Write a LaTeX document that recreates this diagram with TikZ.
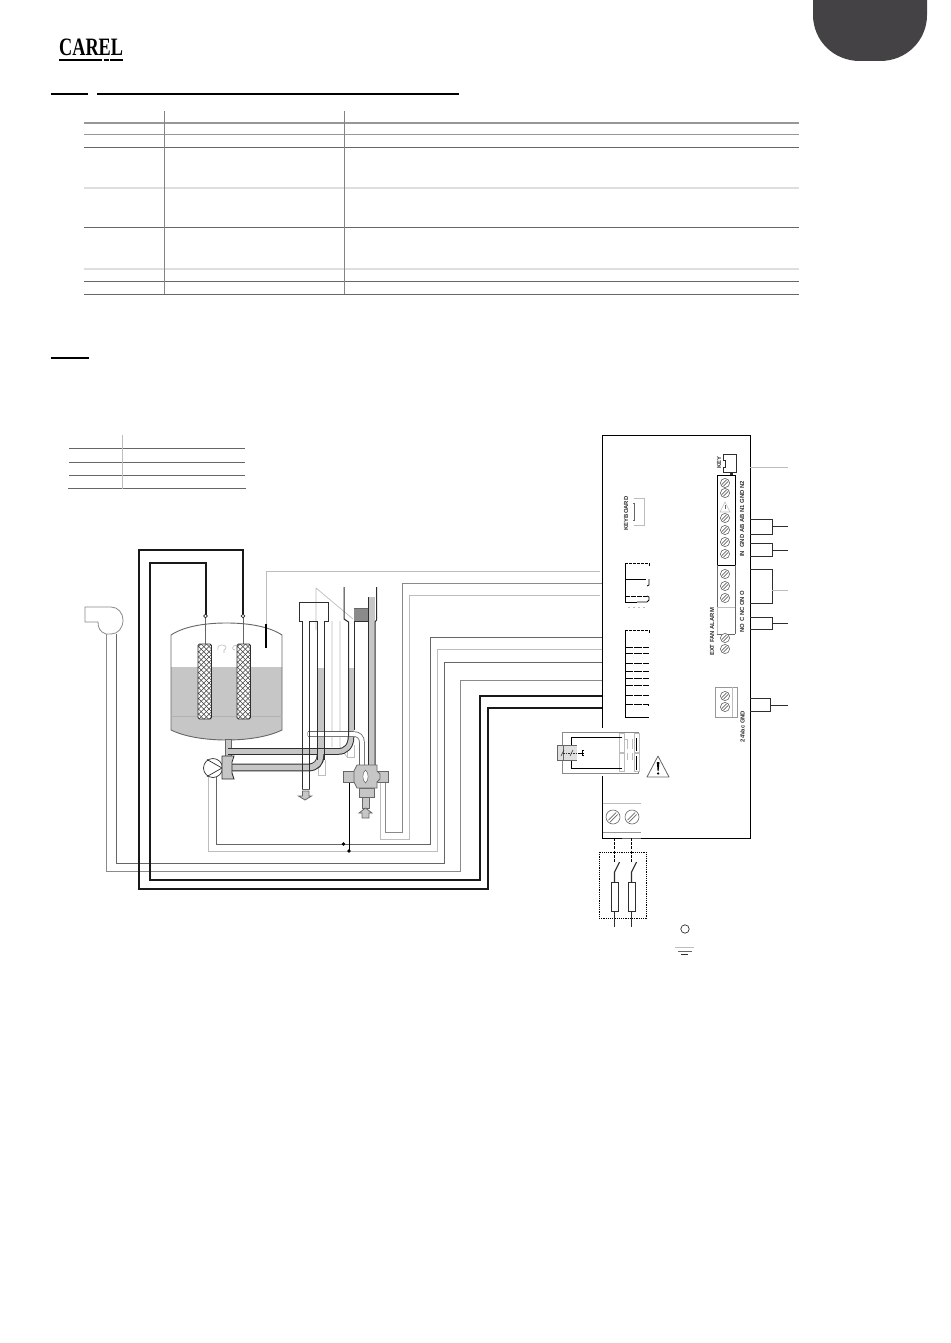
\documentclass[tikz,border=0pt]{standalone}
\usepackage{fontspec}
\setmainfont{Liberation Sans}
\newfontfamily\logofont{Liberation Serif}
\definecolor{dk}{HTML}{2E2E2E}
\definecolor{midg}{HTML}{666666}
\definecolor{wireg}{HTML}{8A8A8A}
\definecolor{ltg}{HTML}{BDBDBD}
\definecolor{vltg}{HTML}{DEDEDE}
\definecolor{water}{HTML}{C6C6C6}
\definecolor{blob}{HTML}{444244}
\tikzset{
  rulelight/.style={draw=vltg,line width=2pt},
  rulemid/.style={draw=ltg!80!black,line width=1pt},
  ruledark/.style={draw=midg,line width=1pt},
  ruleth/.style={draw=black,line width=2pt},
  colrule/.style={draw=ltg!70!black,line width=.6pt},
  wirea/.style={draw=wireg,line width=.8pt},
  wireb/.style={draw=ltg,line width=1pt},
  wirec/.style={draw=midg,line width=.9pt},
  wirethick/.style={draw=black!90,line width=2pt},
  brk/.style={draw=dk,line width=.9pt},
  part/.style={draw=dk,line width=1pt},
  lightpart/.style={draw=ltg,line width=.7pt},
  valve/.style={draw=midg,fill=water,line width=.8pt},
  lbl/.style={font=\bfseries\fontsize{5.9}{6}\selectfont,text=dk,inner sep=0pt,rotate=90},
  dashbus/.style={draw=black,line width=.7pt,dash pattern=on 3pt off 1.2pt},
}
\newcommand\myscrew[2]{%
  \draw[draw=midg,line width=.6pt,fill=white] (#1,#2) circle (4.6);
  \draw[draw=midg,line width=.8pt] (#1-3.2,#2+1.6) -- (#1+1.6,#2-3.2) (#1-1.6,#2+3.2) -- (#1+3.2,#2-1.6);
}
\begin{document}
\begin{tikzpicture}[x=1pt,y=-1pt]
\useasboundingbox (0,0) rectangle (950,1343);
\fill[white] (0,0) rectangle (950,1343);
% corner tab
\fill[blob] (813,0) -- (813,15) .. controls (813,40) and (833,61) .. (860,61) -- (880,61) .. controls (907,61) and (927,40) .. (927,15) -- (927,0) -- cycle;
% logo
\node[font=\logofont\bfseries\fontsize{25}{25}\selectfont,xscale=.73,inner sep=0pt,anchor=base west] (logo) at (59,55.5) {CAREL};
\draw[black,line width=1.5pt] (59,60) -- (102,60) (103.5,60) -- (109,60) (110,60) -- (123,60);
% heading rules
\draw[ruleth] (51,94) -- (88,94) (97,94) -- (459,94);
\draw[ruleth] (51,358) -- (89,358);
% main table
\draw[rulemid,line width=1.4pt] (84,123) -- (799,123);
\draw[rulemid] (84,135) -- (799,135);
\draw[ruledark] (84,148) -- (799,148);
\draw[rulelight] (84,188) -- (799,188);
\draw[ruledark] (84,227.5) -- (799,227.5);
\draw[rulelight] (84,269) -- (799,269);
\draw[ruledark] (84,281) -- (799,281);
\draw[ruledark] (84,294) -- (799,294);
\draw[colrule] (164,111) -- (164,294) (344,111) -- (344,294);
% small table
\draw[ruledark] (69,448) -- (245,448) (69,462) -- (245,462) (69,475) -- (245,475) (68,488.5) -- (246,488.5);
\draw[draw=ltg,line width=1pt] (122,435) -- (122,489);
% ---- wires ----
\draw[wireb] (266,626) -- (266,571) -- (600,571);
\draw[wirea] (385,782) -- (385,832) -- (402,832) -- (402,583) -- (602,583);
\draw[wireb] (380,782) -- (380,839) -- (409,839) -- (409,595) -- (600,595);
\draw[wirec] (216,770) -- (216,844) -- (430,844) -- (430,637) -- (602,637);
\draw[wireb] (208,770) -- (208,851) -- (437,851) -- (437,649) -- (602,649);
\draw[wirec] (116,634) -- (116,863) -- (444,863) -- (444,662) -- (602,662);
\draw[wirea] (106,634) -- (106,871) -- (460,871) -- (460,680) -- (602,680);
\draw[wirethick] (205.5,616) -- (205.5,562.5) -- (150,562.5) -- (150,880) -- (480,880) -- (480,696) -- (602,696);
\draw[wirethick] (243,615) -- (243,550) -- (139,550) -- (139,889) -- (488,889) -- (488,708) -- (602,708);
\draw[black,line width=.8pt] (349,780) -- (349,851);
\fill[black] (343.5,844) circle (1.9) (349,851) circle (1.9);
% ---- fan ----
\draw[wirea] (106,634) .. controls (100,632) and (98,628) .. (98,622) -- (85,622) -- (85,607) -- (111,607) .. controls (118,607) and (123,613) .. (123,620) .. controls (123,628) and (118,634) .. (111,634) -- (106,634);
% ---- tank ----
\fill[water] (171,667) -- (282,667) -- (282,730) .. controls (270,736) and (250,740) .. (226.5,740) .. controls (203,740) and (183,736) .. (171,730) -- cycle;
\draw[draw=midg,line width=.9pt] (171,730) -- (171,635) .. controls (183,627) and (203,623) .. (226.5,623) .. controls (250,623) and (270,627) .. (282,635) -- (282,730) .. controls (270,736) and (250,740) .. (226.5,740) .. controls (203,740) and (183,736) .. (171,730) -- cycle;
\draw[draw=black!30,line width=.3pt] (171,716) -- (282,716);
\draw[black,line width=2pt] (266,624) -- (266,648);
% electrodes
\foreach \ex/\wx in {198/205.5,237/243}{
  \draw[draw=midg,line width=1pt] (\wx,618) -- (\wx,644);
  \draw[fill=white,draw=dk,line width=.6pt] (\wx,616) circle (1.9);
  \begin{scope}
    \clip[rounded corners=1.5pt] (\ex,644) rectangle (\ex+13.5,719);
    \fill[white] (\ex,644) rectangle (\ex+13.5,719);
    \foreach \k in {-4,...,18}{
      \draw[draw=black!75,line width=.55pt] (\ex-2,644+\k*5.2) -- (\ex+18,644+\k*5.2+20);
      \draw[draw=black!75,line width=.55pt] (\ex-2,644+\k*5.2) -- (\ex+18,644+\k*5.2-20);
    }
  \end{scope}
  \draw[draw=dk,line width=.8pt,rounded corners=1.5pt] (\ex,644) rectangle (\ex+13.5,719);
}
% bubbles
\draw[draw=ltg,line width=.6pt] (224,653) -- (224,650) .. controls (227,649) and (227,645) .. (222,645) .. controls (219,645) and (217,647) .. (218,650);
\draw[draw=ltg,line width=.6pt] (235,650) .. controls (231,650) and (232,645) .. (237,645);
% ---- light back parts of columns ----
\draw[lightpart] (332,621) -- (332,747) (340,621) -- (340,747) -- (347,757);
\draw[lightpart] (316,588) -- (353,619) (316,588) -- (316,630);
\draw[lightpart] (318,760) -- (318,775) -- (325,775) -- (325,760);
\draw[lightpart] (347,745) -- (347,757) -- (354,757) -- (354,745);
% water in columns
\fill[water] (317,668) rectangle (324,760);
\fill[water] (349,668) rectangle (354,737);
% ---- pipes ----
\fill[water,draw=midg,line width=.8pt] (225,739) rectangle (231,757);
\draw[draw=dk,line width=6.6pt] (228,751.5) -- (338,751.5) .. controls (346,751.5) and (351,746) .. (351,737);
\draw[draw=water,line width=4.6pt] (226,751.5) -- (338,751.5) .. controls (346,751.5) and (351,746) .. (351,737);
\draw[draw=dk,line width=7.8pt] (232,767.5) -- (308,767.5) .. controls (316,767.5) and (320.5,763) .. (320.5,755);
\draw[draw=water,line width=5.8pt] (232,767.5) -- (308,767.5) .. controls (316,767.5) and (320.5,763) .. (320.5,753);
% white pipe
\draw[draw=midg,line width=5.6pt] (308,734) -- (353,734) .. controls (359,734) and (362,737) .. (362,743) -- (362,766);
\draw[draw=white,line width=4pt] (306,734) -- (353,734) .. controls (359,734) and (362,737) .. (362,743) -- (362,766);
\draw[draw=ltg,line width=1pt] (307,731.7) -- (307,736.3);
% exit tube and cap
\draw[part] (302,789) -- (302,621) -- (299,621) -- (299,602) -- (328,602) -- (328,621) -- (324.5,621) -- (324.5,760);
\draw[part] (309.5,789) -- (309.5,621) -- (317,621) -- (317,760);
\draw[draw=midg,line width=1pt] (302,789) -- (309.5,789);
% right column
\draw[part] (344,587) -- (344,619) -- (348.5,622) -- (348.5,737);
\draw[part] (354,730) -- (354,608);
\fill[wireg] (354,608) rectangle (368,621);
\draw[part] (354,621) -- (368,621);
\draw[draw=water,line width=6pt] (371.5,597) -- (371.5,766);
\draw[part] (368,597) -- (368,766);
\draw[part] (376.5,587) -- (376.5,620) -- (375,622) -- (375,766);
\draw[draw=midg,line width=.7pt] (354,608) -- (368,608);
% drain arrow
\draw[valve] (302.5,791) -- (309,791) -- (309,796) -- (311.5,796) -- (305,800) -- (298.5,796) -- (302.5,796) -- cycle;
% valve
\draw[valve] (343,771) rectangle (388,782);
\draw[valve] (359,788) rectangle (374,797);
\draw[valve] (362,797) rectangle (369,808);
\draw[valve] (354,771) -- (357,765) -- (377,765) -- (377,771) -- (380,774) -- (380,779) -- (377,782) -- (377,788) -- (357,788) -- (354,782) -- cycle;
\fill[white,draw=midg,line width=.5pt] (365.5,770) .. controls (362,773) and (362,780) .. (365.5,783) .. controls (369,780) and (369,773) .. (365.5,770);
\draw[valve] (365.5,808) -- (372,813) -- (369,813) -- (369,818) -- (362,818) -- (362,813) -- (359,813) -- cycle;
% pump
\draw[draw=dk,fill=white,line width=.7pt] (213,768) circle (9.5);
\draw[draw=dk,line width=.7pt] (207,759.5) -- (222,768) -- (207,776.5);
\draw[valve,draw=dk] (222,756) -- (234,756) -- (232,762) -- (232,773) -- (234,779) -- (222,779) -- cycle;
% ---- controller box ----
\draw[draw=black,line width=1pt] (602,728) -- (602,435) -- (750,435) -- (750,838) -- (602,838) -- (602,776);
% key
\node[lbl] (keylab) at (719,462.5) {KEY};
\draw[draw=dk,line width=.9pt] (723,454) -- (723,460) -- (725,460) -- (725,467) -- (723,467) -- (723,472) -- (736,472) -- (736,454) -- cycle;
\fill[dk] (730,472) rectangle (733,475);
\draw[draw=ltg,line width=1pt] (750,467) -- (788,467);
% keyboard
\node[lbl] (kblab) at (626,513.5) {KEYBOARD};
\draw[draw=ltg,line width=.8pt] (634,498) -- (644,498) -- (644,525) -- (634,525);
\draw[draw=midg,line width=.7pt] (633,503) -- (635,503) (634,503) -- (634,520) (633,520) -- (635,520);
% terminal block
\draw[draw=black,line width=.9pt] (717,475) rectangle (735,565);
\draw[draw=midg,line width=.9pt] (717,565) -- (717,607) (735,565) -- (735,634);
\draw[draw=ltg,line width=.9pt] (717,607) -- (735,607) (717,607) -- (717,634);
\draw[draw=midg,line width=.9pt] (717,634) -- (735,634);
\foreach \yy in {483,493,518,530,542,554,574,586,598,638,649}{\myscrew{725}{\yy}}
\draw[draw=ltg,line width=.6pt] (725,502) -- (720,512) -- (730,512) -- cycle;
\draw[draw=midg,line width=.6pt] (725,505) -- (725,509);
\node[lbl] (lab1) at (742,519) {IN\ \ GND\ AB\ AB N1 GND N2};
\node[lbl] (lab2) at (742,611.5) {NO C NC ON O};
\node[lbl] (lab3) at (712,632) {EXT FAN ALARM};
% dashed connectors
\draw[draw=black,line width=.8pt] (625,563) -- (625,602) -- (637,602);
\draw[black,line width=.8pt,dash pattern=on 3pt off 1pt] (625,563) -- (649,563) -- (649,567);
\draw[black,line width=.8pt] (625,579) -- (646,579);
\draw[black,line width=.8pt] (649,579) -- (649,585) -- (647,586);
\draw[black,line width=.8pt,dash pattern=on 5pt off 1pt] (625,596) -- (647,596);
\draw[black,line width=.8pt] (647,596) -- (649,597) -- (649,600) -- (647,602) -- (637,602);
\draw[draw=ltg,line width=.8pt,dash pattern=on 2pt off 3pt] (628,607) -- (645,607);
\draw[black,line width=.8pt] (625,630) -- (625,717) -- (649,717);
\draw[black,line width=.8pt,dash pattern=on 3pt off 1pt] (625,630) -- (649,630) -- (649,634);
\foreach \yy in {647,653,663,671,678,685,695,704}{
  \draw[black,line width=.7pt,dash pattern=on 8pt off 1pt] (625,\yy) -- (649,\yy);
}
\fill[black] (648,705) rectangle (649,706);
% 24 V terminal
\draw[draw=ltg!80!black,line width=1pt,fill=white] (715,687) rectangle (737,717);
\draw[draw=ltg,line width=.8pt] (732,687) -- (732,717);
\myscrew{725}{696}\myscrew{725}{707}
\node[lbl] (lab4) at (742.5,726.5) {24Vac GND};
% right brackets
\draw[brk] (750,519) -- (772,519) -- (772,534) -- (750,534) (772,526) -- (788,526);
\draw[brk] (750,543) -- (772,543) -- (772,556) -- (750,556) (772,550) -- (788,550);
\draw[brk] (750,569) -- (772,569) -- (772,603) -- (750,603);
\draw[draw=ltg,line width=1pt] (772,590) -- (788,590);
\draw[brk] (750,617) -- (772,617) -- (772,629) -- (750,629) (772,623) -- (788,623);
\draw[brk] (750,698) -- (770,698) -- (770,711) -- (750,711) (770,705) -- (788,705);
% relay
\draw[draw=wireg,line width=.8pt,fill=white] (562,732) rectangle (638,773);
\foreach \rx/\rw in {619/5,634/5}{
  \draw[draw=ltg,line width=.8pt,fill=white] (\rx,733) rectangle (\rx+\rw,752);
  \draw[draw=ltg,line width=.8pt,fill=white] (\rx,753.5) rectangle (\rx+\rw,771);
}
\draw[draw=ltg,line width=.7pt] (624,739) -- (627,739) -- (627,749) (627,753) -- (627,760) (632,739) -- (632,749) (632,753) -- (632,760);
\draw[draw=black,line width=.8pt] (622,737) -- (571,737) -- (571,768) -- (622,768);
\draw[draw=black,line width=.5pt] (636,738) -- (636,751) (636,756) -- (636,770);
\fill[black!12] (558,746) rectangle (577,760);
\draw[draw=midg,line width=.9pt] (557,745) -- (577,745) (557,745) -- (557,760) -- (577,760);
\draw[draw=midg,line width=.7pt] (563,745) -- (563,760);
\draw[draw=dk,line width=.5pt] (561,756) -- (564,750) (570,756) -- (573,750);
\draw[draw=dk,line width=.6pt,dash pattern=on 1.5pt off 1pt] (563,753) -- (581,753);
\draw[draw=black,line width=.8pt] (578,753) -- (584,753) (584,750.5) -- (582,750.5) -- (582,755.5) -- (584,755.5);
% warning
\draw[draw=midg,line width=.8pt,fill=white,line join=round] (658,756) -- (669,777) -- (647,777) -- cycle;
\fill[black] (656.8,762) -- (659.4,762) -- (658.6,771) -- (657.6,771) -- cycle;
\fill[black] (658.1,773.5) circle (1.3);
% supply terminal
\draw[draw=ltg,line width=1pt] (603,803) -- (641,803);
\draw[draw=ltg!80!black,line width=.9pt] (603,832) -- (641,832);
\draw[draw=midg,line width=1pt] (622,838) -- (641,838);
\draw[draw=midg,line width=.6pt] (613,817) circle (7);
\draw[draw=midg,line width=.6pt] (632,817) circle (7);
\draw[draw=midg,line width=.7pt] (608.5,820) -- (616,812.5) (610,822) -- (617.5,814.5) (627.5,820) -- (635,812.5) (629,822) -- (636.5,814.5);
% mains
\draw[dashbus] (614.5,838) -- (614.5,862);
\draw[dashbus] (631.5,838) -- (631.5,862);
\draw[draw=black,line width=.6pt,dash pattern=on 1.2pt off 1pt] (599,852) rectangle (646,918);
\foreach \mx in {614.5,631.5}{
  \draw[draw=dk,line width=1.1pt] (\mx,882) -- (\mx,872) -- (\mx+5,862);
  \draw[draw=dk,fill=white,line width=.9pt] (\mx-3.5,882) rectangle (\mx+3.5,911);
  \draw[draw=dk,line width=1.1pt] (\mx,911) -- (\mx,927);
}
% earth
\draw[draw=dk,line width=.7pt] (685,929) circle (4.2);
\draw[draw=ltg,line width=.9pt] (675,947) -- (694,947);
\draw[draw=midg,line width=.8pt] (678,951) -- (692,951);
\draw[draw=dk,line width=.9pt] (681,954.5) -- (688,954.5);
\end{tikzpicture}
\end{document}
